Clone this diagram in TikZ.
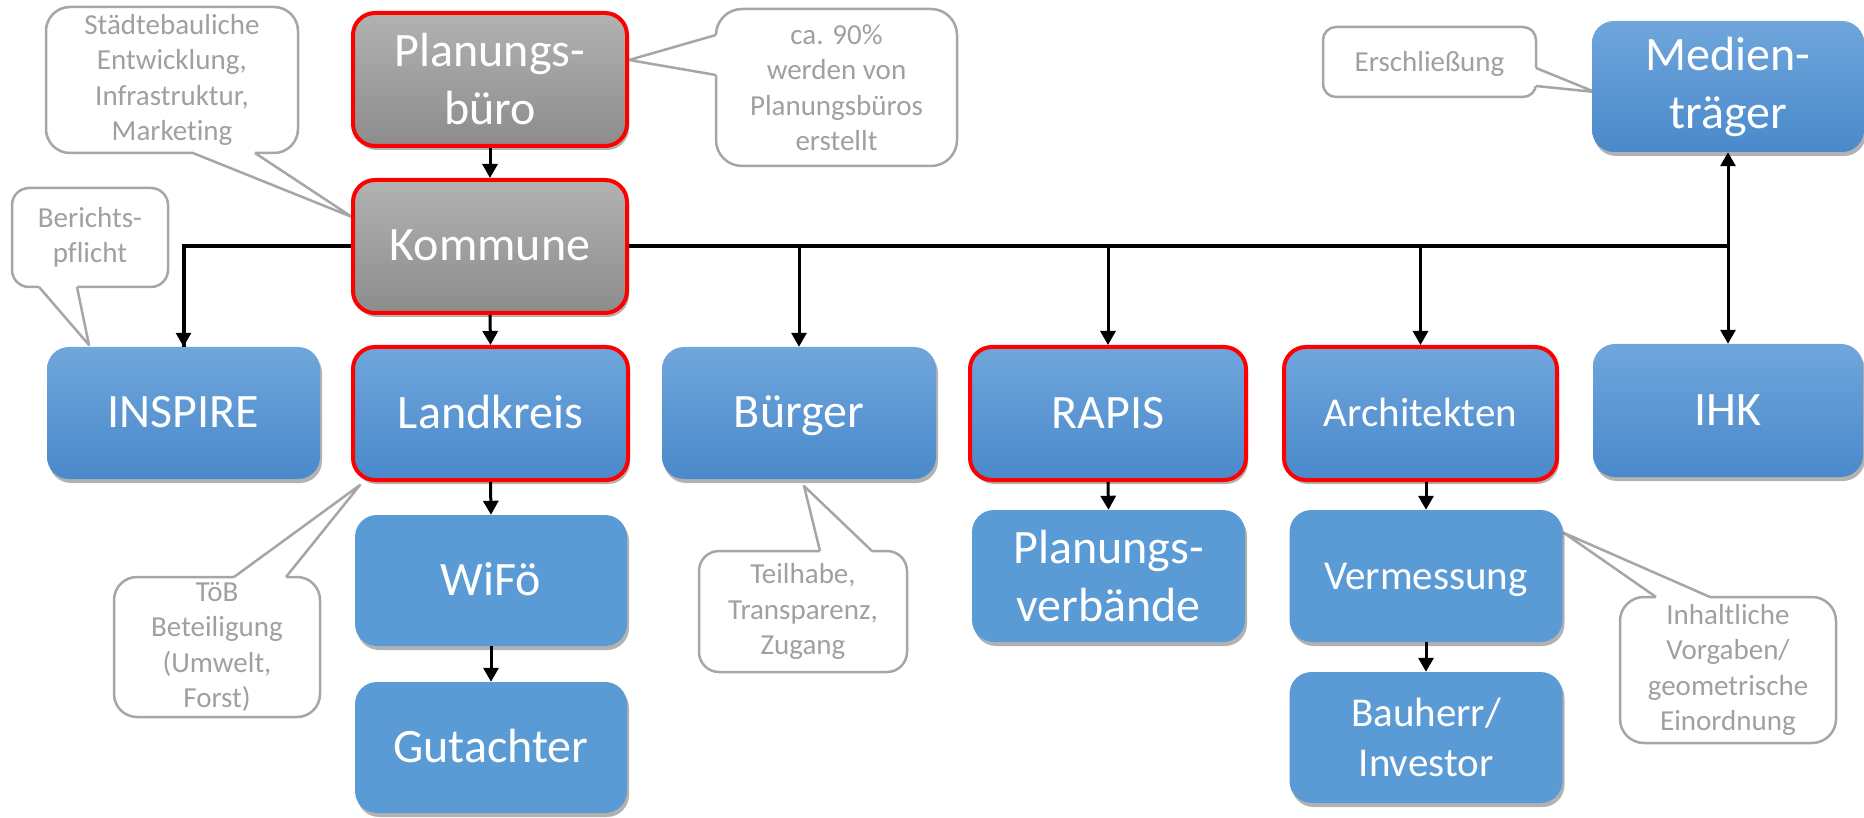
\documentclass[tikz,border=0pt]{standalone}
\usepackage{fontspec}
\setmainfont{Carlito}[Ligatures=NoCommon]
\usetikzlibrary{arrows.meta,shadows}
\definecolor{bluetop}{HTML}{6FA6DC}
\definecolor{bluebot}{HTML}{4A89CB}
\definecolor{blueflat}{HTML}{5B9BD5}
\definecolor{graytop}{HTML}{B2B2B2}
\definecolor{graybot}{HTML}{8C8C8C}
\definecolor{calline}{HTML}{A6A6A6}
\definecolor{caltext}{HTML}{A0A0A0}
\definecolor{redline}{HTML}{FF0000}
\begin{document}
\begin{tikzpicture}[x=1pt,y=-1pt,
  box/.style={rounded corners=22pt, minimum width=273pt, minimum height=132pt, inner sep=0pt,
    text=white, align=center, font=\fontsize{48}{58}\selectfont,
    drop shadow={shadow xshift=2pt, shadow yshift=-4pt, opacity=0.3, fill=black}},
  grad/.style={box, top color=bluetop, bottom color=bluebot},
  flat/.style={box, fill=blueflat},
  graybox/.style={box, top color=graytop, bottom color=graybot},
  redb/.style={draw=redline, line width=4pt},
  mid/.style={font=\fontsize{41}{50}\selectfont},
  one/.style={text height=29pt, text depth=0pt},
  onemid/.style={text height=26pt, text depth=0pt},
  callbox/.style={draw=calline, line width=2.5pt, fill=white, inner sep=0pt, align=center,
    text=caltext, font=\fontsize{29}{35.5}\selectfont},
  calledge/.style={draw=calline, line width=2.5pt, line join=round},
  conn/.style={line width=3pt, -{Triangle[width=15pt,length=14pt]}},
  dconn/.style={line width=3pt, {Triangle[width=15pt,length=14pt]}-{Triangle[width=15pt,length=14pt]}},
  bus/.style={line width=4pt},
]
\useasboundingbox (0,0) rectangle (1864,818);

% ---------- callouts ----------
\node[callbox, rounded corners=24pt, minimum width=252pt, minimum height=146pt] (cstb) at (172,80)
  {Städtebauliche\\Entwicklung,\\Infrastruktur,\\Marketing};
\fill[white] (193,150) -- (193,153) -- (352,217) -- (255,153) -- (255,150) -- cycle;
\draw[calledge] (193,153) -- (352,217) -- (255,153);

\node[callbox, rounded corners=26pt, minimum width=241pt, minimum height=157pt] (cninety) at (836.5,87.5)
  {ca. 90\%\\werden von\\Planungsbüros\\erstellt};
\fill[white] (719,35) -- (716,35) -- (629,60) -- (716,75) -- (719,75) -- cycle;
\draw[calledge] (716,35) -- (629,60) -- (716,75);

\node[callbox, rounded corners=17pt, minimum width=156pt, minimum height=99pt] (cber) at (90,237.5)
  {Berichts-\\pflicht};
\fill[white] (39,284) -- (39,287) -- (89,345) -- (77,287) -- (77,284) -- cycle;
\draw[calledge] (39,287) -- (89,345) -- (77,287);

\node[callbox, rounded corners=13pt, minimum width=213pt, minimum height=70pt, text height=19pt, text depth=0pt] (cers) at (1429.5,62)
  {Erschließung};
\fill[white] (1533,68) -- (1536,68) -- (1595,92) -- (1536,86) -- (1533,86) -- cycle;
\draw[calledge] (1536,68) -- (1595,92) -- (1536,86);

\node[callbox, rounded corners=23pt, minimum width=206pt, minimum height=140pt] (ctoeb) at (217,647)
  {TöB\\Beteiligung\\(Umwelt,\\Forst)};
\fill[white] (234,580) -- (234,577) -- (360,485) -- (286,577) -- (286,580) -- cycle;
\draw[calledge] (234,577) -- (360,485) -- (286,577);

\node[callbox, rounded corners=20pt, minimum width=208pt, minimum height=121pt] (cteil) at (803,611.5)
  {Teilhabe,\\Transparenz,\\Zugang};
\fill[white] (820,554) -- (820,551) -- (804,486) -- (872,551) -- (872,554) -- cycle;
\draw[calledge] (820,551) -- (804,486) -- (872,551);

\node[callbox, rounded corners=24pt, minimum width=216pt, minimum height=146pt] (cinh) at (1728,670)
  {Inhaltliche\\Vorgaben/\\geometrische\\Einordnung};
\fill[white] (1656,600) -- (1656,597) -- (1564,533) -- (1710,597) -- (1710,600) -- cycle;
\draw[calledge] (1656,597) -- (1564,533) -- (1710,597);

% ---------- main boxes ----------
\node[graybox, redb, minimum width=274pt, minimum height=133pt] (pb) at (490,79.5) {Planungs-\\büro};
\node[graybox, redb, one, minimum width=274pt, minimum height=133pt] (kom) at (490,246.5) {Kommune};
\node[grad, one] (insp) at (183.5,413) {INSPIRE};
\node[grad, redb, one, minimum width=275pt, minimum height=133pt] (land) at (490.5,413.5) {Landkreis};
\node[grad, one, minimum width=274pt] (bue) at (799,413) {Bürger};
\node[grad, redb, one, minimum width=276pt, minimum height=133pt] (rapis) at (1108,413.5) {RAPIS};
\node[grad, redb, mid, onemid, minimum height=133pt] (arch) at (1420.5,413.5) {Architekten};
\node[grad, one, minimum width=270pt, minimum height=133pt] (ihk) at (1728,410.5) {IHK};
\node[grad, minimum width=272pt, minimum height=131pt] (med) at (1728,86.5) {Medien-\\träger};
\node[flat, one, minimum width=272pt, minimum height=131pt] (wifo) at (491,580.5) {WiFö};
\node[flat, one, minimum width=272pt, minimum height=131pt] (gut) at (491,747.5) {Gutachter};
\node[flat] (pv) at (1108.5,576) {Planungs-\\verbände};
\node[flat, mid, onemid] (verm) at (1426,576) {Vermessung};
\node[flat, mid, minimum height=131pt] (bau) at (1426,737.5) {Bauherr/\\Investor};

% ---------- connectors ----------
\draw[conn] (pb.south) -- (kom.north);
\draw[conn] (kom.south) -- (land.north);
\draw[bus] (kom.west) -| (insp.north);
\draw[conn] (kom.west -| insp.north) -- (insp.north);
\draw[bus] (kom.east) -- (kom.east -| med.south);
\draw[conn] (kom.east -| bue.north) -- (bue.north);
\draw[conn] (kom.east -| rapis.north) -- (rapis.north);
\draw[conn] (kom.east -| arch.north) -- (arch.north);
\draw[dconn] (med.south) -- (ihk.north);
\draw[conn] (land.south) -- (wifo.north);
\draw[conn] (wifo.south) -- (gut.north);
\draw[conn] (rapis.south) -- (pv.north);
\draw[conn] (verm.north |- arch.south) -- (verm.north);
\draw[conn] (verm.south) -- (bau.north);
\end{tikzpicture}
\end{document}
